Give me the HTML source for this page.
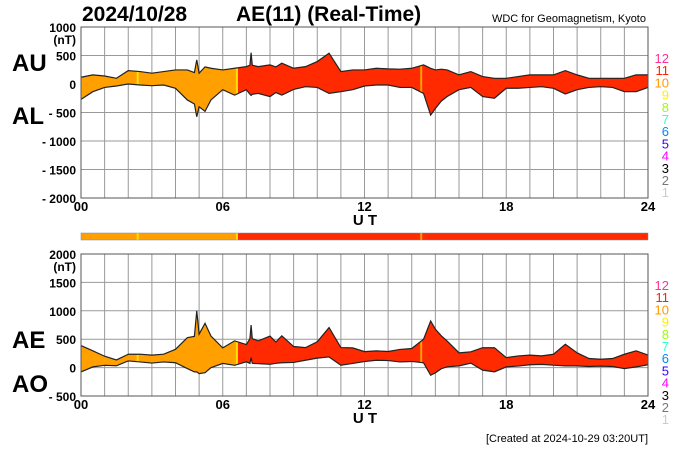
<!DOCTYPE html>
<html><head><meta charset="utf-8"><style>
body{margin:0;background:#fff;}
svg{display:block;font-family:"Liberation Sans",Arial,sans-serif;}
</style></head><body>
<svg id="c" width="700" height="450" viewBox="0 0 700 450"></svg>
<script>
const hours = [0,0.5,1,1.5,2,2.5,3,3.5,4,4.5,4.8,4.9,5,5.25,5.5,6,6.5,7,7.15,7.2,7.25,7.5,8,8.25,8.5,9,9.5,10,10.5,11,11.5,12,12.5,13,13.5,14,14.5,14.8,15,15.25,15.5,16,16.5,17,17.5,18,18.5,19,19.5,20,20.5,21,21.5,22,22.5,23,23.5,24];
const au = [118,160,140,100,235,218,190,218,247,247,200,424,190,300,276,247,276,305,330,550,330,305,335,300,365,276,305,394,540,218,247,247,276,265,260,276,335,276,247,260,247,160,218,130,100,100,130,160,160,160,235,160,100,100,100,100,160,160];
const al = [-270,-135,-60,-35,0,-18,-30,-18,-75,-280,-350,-575,-400,-480,-280,-100,-195,-100,-180,-200,-180,-165,-220,-150,-195,-95,-47,-60,-165,-135,-100,-35,-18,-18,-60,-60,-165,-545,-430,-300,-220,-100,-60,-220,-250,-75,-75,-60,-47,-75,-175,-100,-60,-47,-60,-135,-135,-60];
const segStart = [0,6.6];
const segEnd = [6.6,24];
const segColor = ["#ffa000","#ff2a00"];
const markHours = [2.4,6.6,14.4];
const markColor = ["#ffe000","#ffe000","#ffa000"];
const topTicks = [1000,500,0,-500,-1000,-1500,-2000];
const topTickLabels = ["1000","500","0","- 500","- 1000","- 1500","- 2000"];
const botTicks = [2000,1500,1000,500,0,-500];
const botTickLabels = ["2000","1500","1000","500","0","- 500"];
const xTicks = [0,6,12,18,24];
const xTickLabels = ["00","06","12","18","24"];
const legendNums = ["12","11","10","9","8","7","6","5","4","3","2","1"];
const legendColors = ["#ff3399","#ff2200","#ff9900","#ffee00","#99ff00","#33ffcc","#0088ff","#3300ff","#ff00ff","#000","#777","#ccc"];

const NS="http://www.w3.org/2000/svg";
const svg=document.getElementById('c');
function mk(tag,attrs,parent){const e=document.createElementNS(NS,tag);for(const k in attrs)e.setAttribute(k,attrs[k]);(parent||svg).appendChild(e);return e;}
const X0=81,X1=648;
const xs=h=>X0+(X1-X0)*h/24;

function panel(id,top,bot,vmax,vmin,ticks,labels,upper,lower,nameU,nameL,t1,t2){
  const ys=v=>top+(bot-top)*(vmax-v)/(vmax-vmin);
  const g=mk('g',{});
  
  
  for(let h=0;h<=24;h++){
    const l=mk('line',{x1:xs(h),x2:xs(h),y1:top,y2:bot,stroke:'#999','stroke-width':1},g);
    
    
  }
  ticks.forEach((t,i)=>{
    const l=mk('line',{x1:X0,x2:X1,y1:ys(t),y2:ys(t),stroke:'#999','stroke-width':1},g);
    
    
    const tx=mk('text',{x:76,y:ys(t)+5,'text-anchor':'end','font-size':12,'font-weight':'bold'},g);
    tx.textContent=labels[i];
    
    
  });
  const nt=mk('text',{x:76,y:ys(ticks[0])+17,'text-anchor':'end','font-size':12,'font-weight':'bold'},g);
  nt.textContent='(nT)';
  
  
  let d='M'+hours.map((h,i)=>xs(h)+','+ys(upper[i])).join(' L');
  for(let i=hours.length-1;i>=0;i--)d+=' L'+xs(hours[i])+','+ys(lower[i]);
  d+='Z';
  segStart.forEach((s,i)=>{
    const cp=mk('clipPath',{id:id+'clip'+i},g);
    mk('rect',{x:xs(s),y:top,width:xs(segEnd[i])-xs(s),height:bot-top},cp);
    const p=mk('path',{d:d,fill:segColor[i],'clip-path':'url(#'+id+'clip'+i+')'},g);
    
    
  });
  const cpa=mk('clipPath',{id:id+'clipall'},g);
  mk('path',{d:d},cpa);
  markHours.forEach((m,i)=>{
    const l=mk('line',{x1:xs(m),x2:xs(m),y1:top,y2:bot,stroke:markColor[i],'stroke-width':2,'clip-path':'url(#'+id+'clipall)'},g);
    
    
  });
  const pu=mk('polyline',{points:hours.map((h,i)=>xs(h)+','+ys(upper[i])).join(' '),fill:'none',stroke:'#222','stroke-width':1.2},g);
  
  
  const pl=mk('polyline',{points:hours.map((h,i)=>xs(h)+','+ys(lower[i])).join(' '),fill:'none',stroke:'#222','stroke-width':1.2},g);
  
  
  const fr=mk('rect',{x:X0,y:top,width:X1-X0,height:bot-top,fill:'none',stroke:'#555','stroke-width':1},g);
  
  
  xTicks.forEach((t,i)=>{
    const tx=mk('text',{x:xs(t),y:bot+13,'text-anchor':'middle','font-size':13,'font-weight':'bold'},g);
    tx.textContent=xTickLabels[i];
    
    
  });
  const ut=mk('text',{x:365,y:bot+27,'text-anchor':'middle','font-size':15,'font-weight':'bold'},g);
  ut.textContent='U T';
  
  
  const a=mk('text',{x:12,y:t1,'font-size':24,'font-weight':'bold'},g);
  a.textContent=nameU;
  
  
  const b=mk('text',{x:12,y:t2,'font-size':24,'font-weight':'bold'},g);
  b.textContent=nameL;
  
  
  legendNums.forEach((n,i)=>{
    const tx=mk('text',{x:669,y:top+36+i*12.2,'text-anchor':'end','font-size':13,fill:legendColors[i]},g);
    tx.textContent=n;
    
    
  });
}
const ae=au.map((u,i)=>u-al[i]);
const ao=au.map((u,i)=>(u+al[i])/2);
panel('top',27,198,1000,-2000,topTicks,topTickLabels,au,al,'AU','AL',71,124);
panel('bot',254,396,2000,-500,botTicks,botTickLabels,ae,ao,'AE','AO',348,392);

segStart.forEach((s,i)=>{
  const r=mk('rect',{x:xs(s),y:233,width:xs(segEnd[i])-xs(s),height:7,fill:segColor[i]});
  
  
});
markHours.forEach((m,i)=>{
  const l=mk('line',{x1:xs(m),x2:xs(m),y1:233,y2:240,stroke:markColor[i],'stroke-width':2});
  
  
});
const cb=mk('rect',{x:X0,y:233,width:X1-X0,height:7,fill:'none',stroke:'#888','stroke-width':0.5});



const t1=mk('text',{x:82,y:21,'font-size':21,'font-weight':'bold'});
t1.textContent='2024/10/28';


const t2=mk('text',{x:236,y:21,'font-size':21,'font-weight':'bold'});
t2.textContent='AE(11) (Real-Time)';


const t3=mk('text',{x:646,y:22,'text-anchor':'end','font-size':11});
t3.textContent='WDC for Geomagnetism, Kyoto';


const t4=mk('text',{x:648,y:442,'text-anchor':'end','font-size':11});
t4.textContent='[Created at 2024-10-29 03:20UT]';


</script>
</body></html>
